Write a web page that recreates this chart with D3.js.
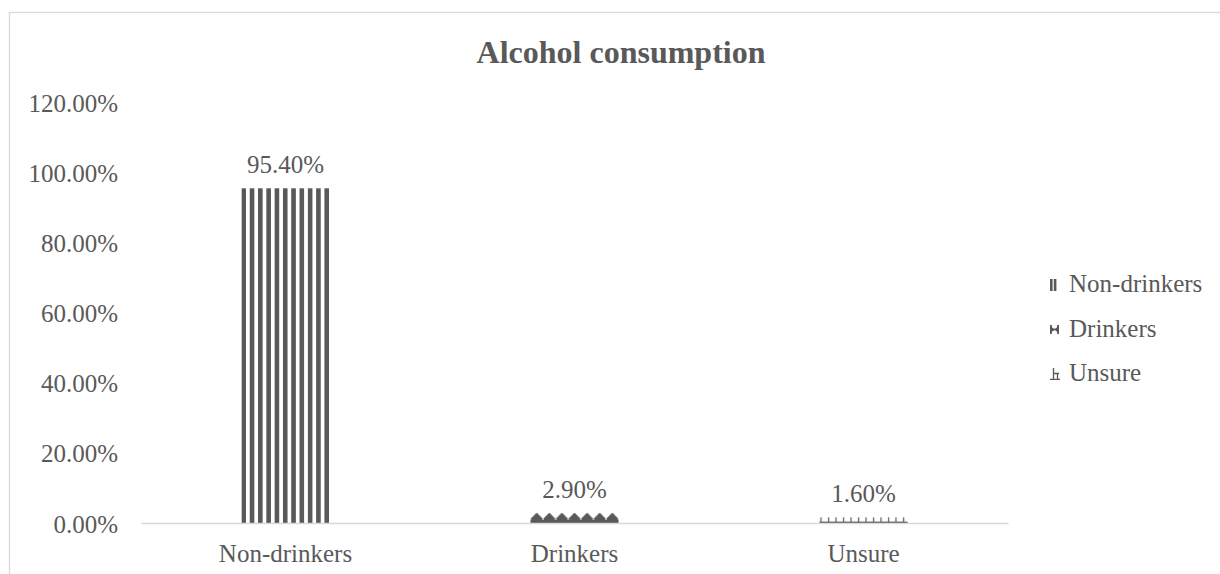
<!DOCTYPE html>
<html>
<head>
<meta charset="utf-8">
<script src="https://cdn.jsdelivr.net/npm/d3@7"></script>
<style>
  html, body { margin: 0; padding: 0; background: #fff; }
  svg { display: block; }
  text { font-family: "Liberation Serif", "Times New Roman", serif; fill: #595959; }
</style>
</head>
<body>
<svg id="chart" width="1220" height="574"></svg>
<script>
// Survey results: share of respondents by alcohol use
const categories = ["Non-drinkers", "Drinkers", "Unsure"];
const values = [95.4, 2.9, 1.6];
const valueLabels = ["95.40%", "2.90%", "1.60%"];
const yTicks = [0, 20, 40, 60, 80, 100, 120];
const yTickLabels = ["0.00%", "20.00%", "40.00%", "60.00%", "80.00%", "100.00%", "120.00%"];
const title = "Alcohol consumption";

const W = 1220, H = 574;
const ink = "#595959";
const rule = "#d9d9d9";

const svg = d3.select("#chart");

// chart frame (extends past the right and bottom edges)
svg.append("rect")
  .attr("x", 9.5).attr("y", 12.5)
  .attr("width", W + 20).attr("height", H + 20)
  .attr("fill", "#fff").attr("stroke", rule).attr("stroke-width", 1.3);

const plot = { left: 141, right: 1008, top: 102, bottom: 523 };

const x = d3.scaleBand().domain(categories).range([plot.left, plot.right]).padding(0);
const y = d3.scaleLinear().domain([0, 120]).range([plot.bottom, plot.top]);
const barW = x.bandwidth() * 0.305;
const barX = c => x(c) + (x.bandwidth() - barW) / 2;

// fill patterns, one per series, anchored on each bar
const defs = svg.append("defs");

// vertical stripes
const pStripe = defs.append("pattern")
  .attr("id", "pat-0").attr("patternUnits", "userSpaceOnUse")
  .attr("x", barX(categories[0])).attr("y", 0)
  .attr("width", 8.3).attr("height", 10);
pStripe.append("rect").attr("x", 0).attr("y", 0).attr("width", 4.6).attr("height", 10).attr("fill", ink);

// peaked blocks
const dw = 12.6, dh = 12.6;
const pPeak = defs.append("pattern")
  .attr("id", "pat-1").attr("patternUnits", "userSpaceOnUse")
  .attr("x", barX(categories[1])).attr("y", y(0) - dh)
  .attr("width", dw).attr("height", dh);
pPeak.append("path")
  .attr("d", `M0.6,${dh} L0.6,${dh - 4.5} L${dw / 2},${dh - 10.4} L${dw - 0.6},${dh - 4.5} L${dw - 0.6},${dh} Z`)
  .attr("fill", ink);
pPeak.append("rect").attr("x", 0).attr("y", dh - 3).attr("width", dw).attr("height", 3).attr("fill", ink);

// baseline with short upright ticks
const tw = 7.5, th = 6;
const pTick = defs.append("pattern")
  .attr("id", "pat-2").attr("patternUnits", "userSpaceOnUse")
  .attr("x", barX(categories[2])).attr("y", y(0) - th)
  .attr("width", tw).attr("height", th);
pTick.append("rect").attr("x", 1).attr("y", 0).attr("width", 1.2).attr("height", th).attr("fill", ink);
pTick.append("rect").attr("x", 0).attr("y", th - 1.4).attr("width", tw).attr("height", 1.4).attr("fill", ink);

// title
svg.append("text")
  .attr("x", 621).attr("y", 63)
  .attr("text-anchor", "middle")
  .style("font-size", "32px").style("font-weight", "bold")
  .text(title);

// y axis labels (no axis line, no gridlines)
const yAxis = d3.axisLeft(y).tickValues(yTicks)
  .tickFormat((d, i) => yTickLabels[i]).tickSize(0).tickPadding(0);
const gy = svg.append("g").attr("transform", `translate(118,0)`).call(yAxis);
gy.select(".domain").remove();
gy.selectAll("text")
  .attr("dy", "0.36em")
  .style("font-family", '"Liberation Serif", serif')
  .style("font-size", "25px").attr("fill", ink);

// bars
svg.append("g").selectAll("rect")
  .data(categories)
  .join("rect")
  .attr("x", c => barX(c))
  .attr("y", (c, i) => y(values[i]))
  .attr("width", barW)
  .attr("height", (c, i) => y(0) - y(values[i]))
  .attr("fill", (c, i) => `url(#pat-${i})`);

// category axis
const xAxis = d3.axisBottom(x).tickSize(0).tickPadding(0);
const gx = svg.append("g").attr("transform", `translate(0,${y(0)})`).call(xAxis);
gx.select(".domain").attr("stroke", rule).attr("stroke-width", 1.6);
gx.selectAll("text")
  .attr("y", 39).attr("dy", 0)
  .style("font-family", '"Liberation Serif", serif')
  .style("font-size", "25px").attr("fill", ink);

// value labels
svg.append("g").selectAll("text")
  .data(categories)
  .join("text")
  .attr("x", c => x(c) + x.bandwidth() / 2)
  .attr("y", (c, i) => y(values[i]) - 15)
  .attr("text-anchor", "middle")
  .style("font-size", "25px")
  .text((c, i) => valueLabels[i]);

// legend
const legend = svg.append("g").attr("transform", "translate(1050,0)");
const rowBase = [292, 337, 381];
categories.forEach((c, i) => {
  const g = legend.append("g").attr("transform", `translate(0,${rowBase[i]})`);
  if (i === 0) {
    g.append("rect").attr("x", 0).attr("y", -13).attr("width", 2.6).attr("height", 12).attr("fill", ink);
    g.append("rect").attr("x", 3.8).attr("y", -13).attr("width", 2.6).attr("height", 12).attr("fill", ink);
  } else if (i === 1) {
    g.append("path").attr("d", "M0,-12 L4.2,-7.5 L0,-3 Z M9,-12 L4.8,-7.5 L9,-3 Z").attr("fill", ink);
    g.append("rect").attr("x", 0).attr("y", -12).attr("width", 1.8).attr("height", 9).attr("fill", ink);
    g.append("rect").attr("x", 7.2).attr("y", -12).attr("width", 1.8).attr("height", 9).attr("fill", ink);
    g.append("rect").attr("x", 0).attr("y", -8.4).attr("width", 9).attr("height", 1.8).attr("fill", ink);
  } else {
    g.append("path")
      .attr("d", "M3.5,-13 V-1.6 M0,-1.6 H10 M3.5,-7.5 H9 M7.5,-7.5 V-1.6")
      .attr("stroke", ink).attr("stroke-width", 1.3).attr("fill", "none");
  }
  g.append("text").attr("x", 19).attr("y", 0)
    .style("font-size", "25px")
    .text(c);
});
</script>
</body>
</html>
